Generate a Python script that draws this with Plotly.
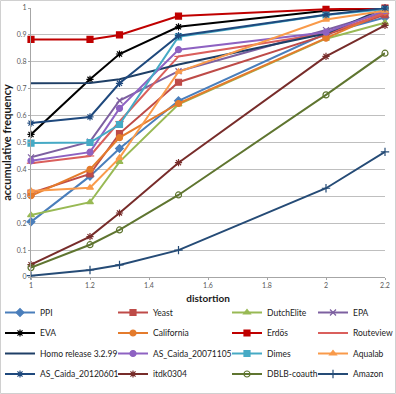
import plotly.graph_objects as go

# distortion values on the x axis
distortion = [1, 1.2, 1.3, 1.5, 2, 2.2]

# accumulative frequency per network
ppi = [0.205, 0.375, 0.478, 0.655, 0.905, 0.965]
yeast = [0.312, 0.383, 0.533, 0.724, 0.90, 0.975]
dutch_elite = [0.23, 0.278, 0.428, 0.642, 0.886, 0.945]
epa = [0.445, 0.503, 0.656, 0.765, 0.918, 0.985]
eva = [0.53, 0.735, 0.829, 0.93, 0.99, 1.0]
california = [0.302, 0.40, 0.518, 0.645, 0.888, 0.985]
erdos = [0.883, 0.883, 0.90, 0.97, 0.995, 1.0]
routeview = [0.423, 0.45, 0.578, 0.82, 0.905, 0.98]
homo = [0.72, 0.721, 0.735, 0.79, 0.905, 1.0]
as_caida_2007 = [0.432, 0.464, 0.627, 0.845, 0.91, 0.99]
dimes = [0.498, 0.50, 0.567, 0.893, 0.974, 0.995]
aqualab = [0.32, 0.332, 0.443, 0.763, 0.957, 0.99]
as_caida_2012 = [0.572, 0.595, 0.72, 0.897, 0.975, 1.0]
itdk = [0.046, 0.15, 0.238, 0.425, 0.82, 0.935]
dblb = [0.035, 0.12, 0.175, 0.305, 0.677, 0.832]
amazon = [0.005, 0.026, 0.045, 0.10, 0.33, 0.465]

# name, values, colour, marker symbol, legend column
series = [
    ('PPI', ppi, '#4A7EBB', 'diamond', 'legend'),
    ('Yeast', yeast, '#BE4B48', 'square', 'legend2'),
    ('DutchElite', dutch_elite, '#98B954', 'triangle-up', 'legend3'),
    ('EPA', epa, '#7D60A0', 'x-thin-open', 'legend4'),
    ('EVA', eva, '#000000', 'asterisk-open', 'legend'),
    ('California', california, '#E47B2C', 'circle', 'legend2'),
    ('Erdös', erdos, '#C00000', 'square', 'legend3'),
    ('Routeview', routeview, '#DA5F5C', 'line-ew-open', 'legend4'),
    ('Homo release 3.2.99', homo, '#1F3F66', None, 'legend'),
    ('AS_Caida_20071105', as_caida_2007, '#8E62C2', 'circle', 'legend2'),
    ('Dimes', dimes, '#46AAC5', 'square', 'legend3'),
    ('Aqualab', aqualab, '#F99A4A', 'triangle-up', 'legend4'),
    ('AS_Caida_20120601', as_caida_2012, '#1F497D', 'asterisk-open', 'legend'),
    ('itdk0304', itdk, '#772C2A', 'asterisk-open', 'legend2'),
    ('DBLB-coauth', dblb, '#5F7530', 'circle-open', 'legend3'),
    ('Amazon', amazon, '#254B76', 'cross-thin-open', 'legend4'),
]

font = 'Lato, Roboto, sans-serif'

fig = go.Figure()
for name, vals, color, symbol, leg in series:
    if symbol is None:
        fig.add_trace(go.Scatter(x=distortion, y=vals, name=name, mode='lines',
                                 line=dict(color=color, width=2), legend=leg,
                                 legendgroup=name))
    else:
        fig.add_trace(go.Scatter(
            x=distortion, y=vals, name=name, mode='lines+markers',
            line=dict(color=color, width=2), legend=leg, legendgroup=name,
            cliponaxis=False,
            marker=dict(symbol=symbol, size=6, color=color,
                        line=dict(color=color, width=1.2)),
        ))

# plot area: x 31..385 px, y 8..277 px
W, H = 396, 394
L, R, T, B = 31, 11, 8, 117
pw, ph = W - L - R, H - T - B


def px_x(p):
    return (p - L) / pw


def px_y(p):
    return (H - B - p) / ph


leg_common = dict(orientation='v', yanchor='top', xanchor='left', y=px_y(298),
                  bgcolor='rgba(0,0,0,0)', font=dict(family=font, size=8.5, color='#1a1a1a'),
                  itemwidth=30, traceorder='grouped', tracegroupgap=1.5)

fig.update_layout(
    width=W, height=H,
    margin=dict(l=L, r=R, t=T, b=B, autoexpand=False),
    paper_bgcolor='white', plot_bgcolor='white',
    font=dict(family=font, color='#404040'),
    legend=dict(x=px_x(0), **leg_common),
    legend2=dict(x=px_x(113), **leg_common),
    legend3=dict(x=px_x(227), **leg_common),
    legend4=dict(x=px_x(313), **leg_common),
    xaxis=dict(range=[1, 2.2], dtick=0.2, tick0=1, showgrid=False,
               showline=True, linecolor='#A6A6A6', linewidth=1,
               ticks='outside', ticklen=2, tickcolor='#A6A6A6',
               tickfont=dict(size=7, color='#595959'), ticklabeloverflow='allow',
               title=dict(text='<b>distortion</b>', font=dict(size=10, color='#1a1a1a'), standoff=6),
               zeroline=False),
    yaxis=dict(range=[0, 1], dtick=0.1, showgrid=True, gridcolor='#BFBFBF', gridwidth=1.2,
               showline=True, linecolor='#A6A6A6', linewidth=1,
               ticks='outside', ticklen=2, tickcolor='#A6A6A6',
               tickfont=dict(size=7, color='#595959'),
               title=dict(text='<b>accumulative frequency</b>', font=dict(size=11, color='#1a1a1a'), standoff=3),
               zeroline=False),
    shapes=[dict(type='rect', xref='paper', yref='paper',
                 x0=px_x(0.5), x1=px_x(W - 0.5), y0=px_y(H - 0.5), y1=px_y(0.5),
                 line=dict(color='#D0D0D0', width=1), layer='below')],
)

fig.write_html('out.html', config={'displayModeBar': False},
               post_script="document.body.style.margin='0px';")
